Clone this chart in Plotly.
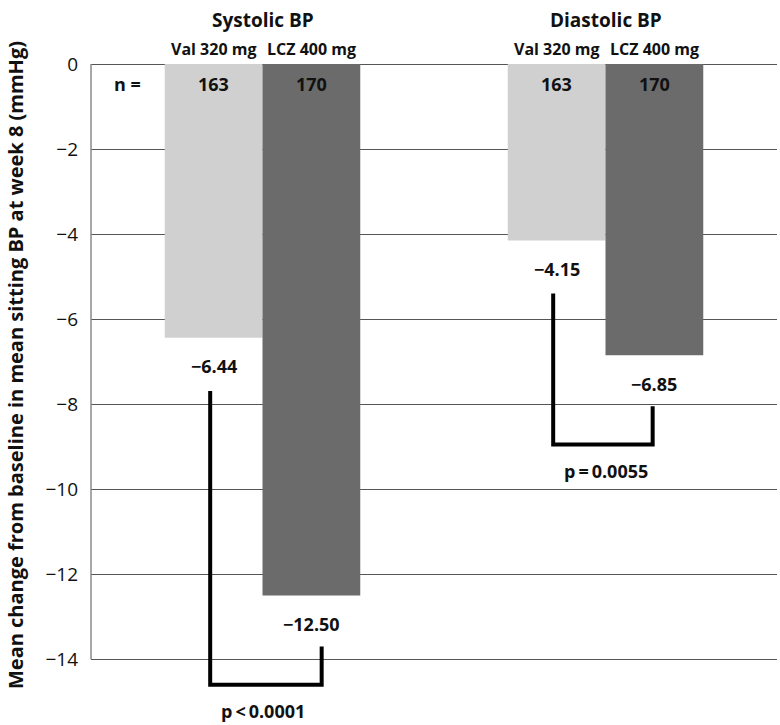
import plotly.graph_objects as go

# ---- data ----
groups = ["Systolic BP", "Diastolic BP"]
treatments = ["Val 320 mg", "LCZ 400 mg"]
val_change = [-6.44, -4.15]
lcz_change = [-12.50, -6.85]
val_n = [163, 163]
lcz_n = [170, 170]
p_values = ["p\u2009<\u20090.0001", "p\u2009=\u20090.0055"]
tick_vals = [0, -2, -4, -6, -8, -10, -12, -14]
tick_text = ["0" if v == 0 else "\u2212" + str(abs(v)) for v in tick_vals]
y_title = "Mean change from baseline in mean sitting BP at week 8 (mmHg)"

# ---- style ----
FONT = "Open Sans"
VAL_COLOR = "#d0d0d0"
LCZ_COLOR = "#6b6b6b"
GRID = "#555555"
TXT = "#111111"
BAR_W = 0.285
OFF = BAR_W / 2
FS = 18

xs = list(range(len(groups)))

fig = go.Figure()
fig.add_trace(go.Bar(x=[x - OFF for x in xs], y=val_change, width=BAR_W,
                     marker=dict(color=VAL_COLOR, line=dict(width=0)),
                     name=treatments[0], showlegend=False, hoverinfo="y"))
fig.add_trace(go.Bar(x=[x + OFF for x in xs], y=lcz_change, width=BAR_W,
                     marker=dict(color=LCZ_COLOR, line=dict(width=0)),
                     name=treatments[1], showlegend=False, hoverinfo="y"))


def fmt(v):
    return "\u2212" + f"{abs(v):.2f}"


def note(x, y, text, size=FS, yref="y", yshift=0):
    return dict(xref="x", yref=yref, x=x, y=y, yshift=yshift, text="<b>" + text + "</b>",
                showarrow=False, xanchor="center", yanchor="middle",
                font=dict(family=FONT, size=size, color=TXT))


annotations = []
shift_r = [0.03, -0.005]
for i, x in enumerate(xs):
    xv, xl = x - OFF, x + OFF
    # headers (above the plot area)
    annotations.append(note(x, 1, groups[i], size=FS + 1, yref="paper", yshift=44))
    annotations.append(note(xv, 1, treatments[0], size=16, yref="paper", yshift=15))
    annotations.append(note(xl, 1, treatments[1], size=16, yref="paper", yshift=15))
    # n
    annotations.append(note(xv, -0.47, str(val_n[i])))
    annotations.append(note(xl, -0.47, str(lcz_n[i])))
    # value labels
    annotations.append(note(xv, val_change[i] - 0.67, fmt(val_change[i])))
    annotations.append(note(xl, lcz_change[i] - 0.67, fmt(lcz_change[i])))
    # bracket
    top_l = val_change[i] - 1.25
    top_r = lcz_change[i] - 1.2
    bot = lcz_change[i] - 2.1
    xa = xv - 0.01
    xb = xl + shift_r[i]
    fig.add_trace(go.Scatter(x=[xa, xa, xb, xb], y=[top_l, bot, bot, top_r],
                             mode="lines", line=dict(color="black", width=4),
                             showlegend=False, hoverinfo="skip"))
    annotations.append(note(x, bot - 0.62, p_values[i]))

annotations.append(note(-0.395, -0.47, "n ="))

annotations.append(dict(xref="paper", yref="paper", x=-0.111, y=0.543,
                        text="<b>" + y_title + "</b>", textangle=-90, showarrow=False,
                        xanchor="center", yanchor="middle",
                        font=dict(family=FONT, size=20, color=TXT)))

fig.update_layout(
    width=780, height=725,
    margin=dict(l=91, r=3, t=64, b=2),
    paper_bgcolor="white", plot_bgcolor="white",
    barmode="overlay",
    annotations=annotations,
    shapes=[dict(type="line", xref="paper", x0=0, x1=0, yref="y", y0=0, y1=-14,
                 line=dict(color="#8a8a8a", width=1.5), layer="above")],
    xaxis=dict(range=[-0.5, 1.5], showgrid=False, zeroline=False, showline=False,
               showticklabels=False, ticks=""),
    yaxis=dict(range=[-15.5, 0], tickvals=tick_vals, ticktext=tick_text,
               showgrid=True, gridcolor=GRID, gridwidth=1,
               zeroline=True, zerolinecolor=GRID, zerolinewidth=1,
               showline=False, ticks="", ticklabelstandoff=12, automargin=False,
               tickfont=dict(family=FONT, size=FS + 1, color=TXT)),
)

fig.write_html("out.html", config={"displayModeBar": False},
               post_script="document.body.style.margin='0px';")
